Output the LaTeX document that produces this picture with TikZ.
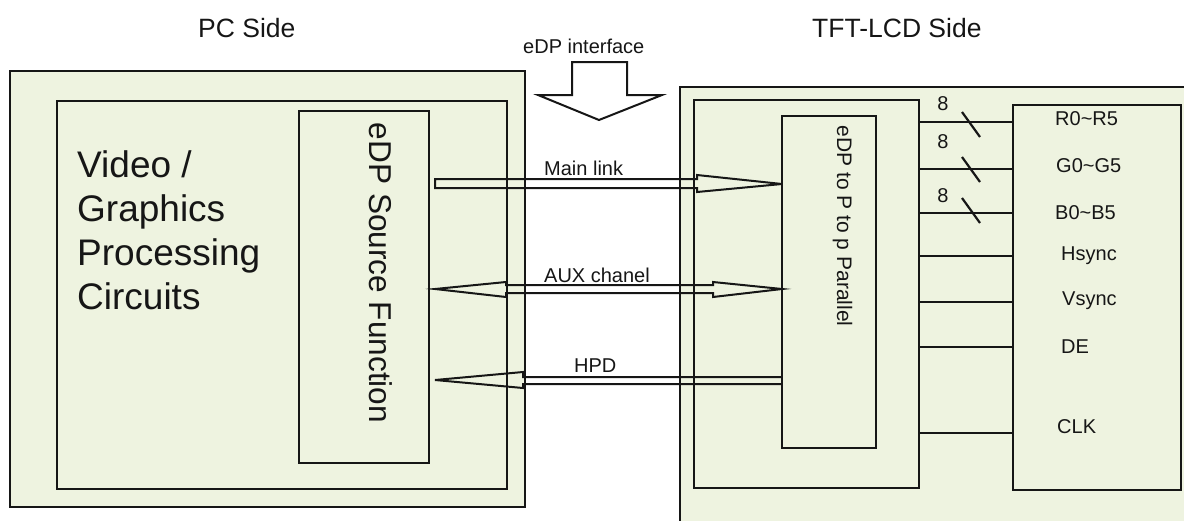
\documentclass[tikz,border=0pt]{standalone}
\usepackage{fontspec}
\setmainfont{Liberation Sans}
\usetikzlibrary{calc}
\definecolor{panel}{RGB}{238,243,224}
\definecolor{ink}{RGB}{22,22,22}
\begin{document}
\begin{tikzpicture}[x=1pt,y=-1pt,line join=miter,
  box/.style={draw=ink,line width=2.6pt,fill=panel,inner sep=0pt,outer sep=0pt,anchor=north west},
  sig/.style={draw=ink,line width=2.8pt},
  bus/.style={draw=ink,line width=2.2pt},
  hollow/.style={draw=ink,line width=2pt},
  lbl/.style={inner sep=0pt,anchor=base west,font=\fontsize{20}{20}\selectfont,text=ink},
  ttl/.style={inner sep=0pt,anchor=base west,font=\fontsize{26.5}{26.5}\selectfont,text=ink}]
\useasboundingbox (0,0) rectangle (1184,520);
\clip (0,0) rectangle (1184,520);
% titles
\node[ttl] (pcside) at (198,37) {PC Side};
\node[ttl] (tftside) at (812,37) {TFT-LCD Side};
\node[lbl] (ifc) at (523,53) {eDP interface};
% hollow interface arrow
\draw[hollow,fill=white] (572,62) -- (627,62) -- (627,95) -- (662,95) -- (599,120) -- (538,95) -- (572,95) -- cycle;
% PC side
\node[box,minimum width=515pt,minimum height=436pt] (pcout) at (10,71) {};
\node[box,minimum width=450pt,minimum height=388pt] (pcin) at (57,101) {};
\node[box,minimum width=130pt,minimum height=352pt] (src) at (299,111) {};
\node[inner sep=0pt,anchor=north west,align=left,font=\fontsize{37}{44}\selectfont,text=ink] (vgp) at (77,150) {Video /\\Graphics\\Processing\\Circuits};
\node[inner sep=0pt,anchor=base,rotate=-90,font=\fontsize{31.6}{31.6}\selectfont,text=ink] (srctxt) at (369,273) {eDP Source Function};
% TFT side
\node[box,minimum width=520pt,minimum height=453pt] (tftout) at (680,87) {};
\node[box,minimum width=225pt,minimum height=388pt] (tftin) at (694,100) {};
\node[box,minimum width=94pt,minimum height=332pt] (conv) at (782,116) {};
\node[box,minimum width=168pt,minimum height=385pt] (panelbox) at (1013,105) {};
\node[inner sep=0pt,anchor=base,rotate=-90,font=\fontsize{21}{21}\selectfont,text=ink] (convtxt) at (837,226) {eDP to P to p Parallel};
% signal lines
\foreach \yy in {122,169,213,256,302,347,433}
  \draw[sig] (tftin.east |- 0,\yy) -- (panelbox.west |- 0,\yy);
% bus slashes and widths
\foreach \yy/\by in {112/110,157/148,198/202}{
  \draw[bus] (962,\yy) -- (980,\yy+25);
  \node[lbl,anchor=base] at (943,\by) {8};
}
% signal names
\node[lbl] (r) at (1055,125) {R0\textasciitilde R5};
\node[lbl] (g) at (1056,172) {G0\textasciitilde G5};
\node[lbl] (b) at (1055,219) {B0\textasciitilde B5};
\node[lbl] (hs) at (1061,260) {Hsync};
\node[lbl] (vs) at (1062,305) {Vsync};
\node[lbl] (de) at (1061,353) {DE};
\node[lbl] (clk) at (1057,433) {CLK};
% main link
\draw[hollow] (435,179) -- (697,179) -- (697,175) -- (782,184) -- (697,192) -- (697,188) -- (435,188) -- cycle;
\node[lbl] (ml) at (544,175) {Main link};
% aux channel
\draw[hollow] (435,289) -- (506,282) -- (506,285) -- (713,285) -- (713,282) -- (782,289) -- (713,297) -- (713,293) -- (506,293) -- (506,297) -- cycle;
\node[lbl] (aux) at (544,282) {AUX chanel};
% HPD
\draw[hollow] (782,377) -- (523,377) -- (523,372) -- (435,380) -- (523,388) -- (523,384) -- (782,384);
\node[lbl] (hpd) at (574,372) {HPD};
\end{tikzpicture}
\end{document}
